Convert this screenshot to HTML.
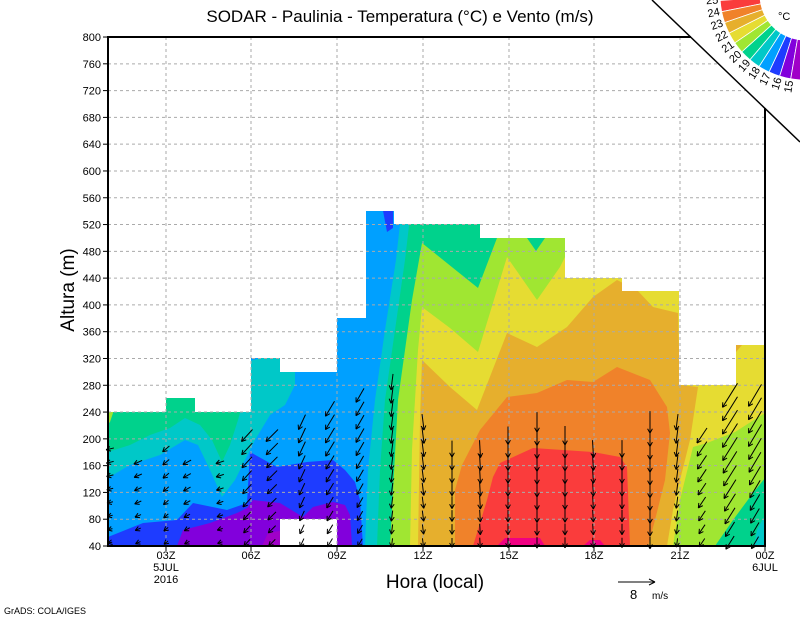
<!DOCTYPE html>
<html><head><meta charset="utf-8"><style>
html,body{margin:0;padding:0;background:#fff;}
svg{display:block;}
text{font-family:"Liberation Sans",sans-serif;}
</style></head><body>
<svg id="s" width="800" height="618" viewBox="0 0 800 618" xmlns="http://www.w3.org/2000/svg">
<rect x="108" y="200" width="657" height="346" fill="#00a0ff"/>
<polygon fill="#00c8c8" points="108,395 295,350 295,385 285,405 270,415 255,440 245,460 235,480 222,497 210,470 198,445 185,440 160,455 130,465 108,478"/>
<polygon fill="#00d28c" points="108,395 245,395 238,420 230,445 222,462 212,440 200,425 185,418 170,428 150,435 130,445 108,452"/>
<polygon fill="#a0e632" points="108,410 114,410 110,422 108,424"/>
<polygon fill="#1e3cff" points="108,546 108,537 143,523 177,520 193,503 227,510 247,503 250,452 277,467 307,462 333,460 345,470 355,482 360,500 363,546"/>
<polygon fill="#8200dc" points="177,546 183,530 210,523 237,513 247,508 253,500 280,503 303,517 313,507 333,502 345,505 350,515 352,546"/>
<polygon fill="#a000c8" points="262,546 268,533 285,530 292,546"/>
<polygon fill="#1e3cff" points="381,200 393,200 393,228 387,232"/>
<polygon fill="#00c8c8" points="400,200 400,224 396,260 385,330 375,400 368,470 365,546 765,546 765,200"/>
<polygon fill="#00d28c" points="412,200 405,260 395,330 385,400 380,470 377,546 754,546 757,530 765,515 765,200"/>
<polygon fill="#a0e632" points="390,546 398,400 412,300 422,243 478,288 497,238 527,238 536,251 545,238 565,238 565,200 765,200 765,478 753,493 733,520 715,546"/>
<polygon fill="#e6dc32" points="410,546 412,450 418,350 422,307 450,328 478,352 507,257 537,300 560,267 565,257 565,200 765,200 765,413 735,432 707,443 693,447 680,500 673,546"/>
<polygon fill="#e6af2d" points="418,546 420,420 422,360 450,387 477,410 507,333 537,347 567,327 593,297 617,280 637,290 653,307 678,313 680,385 698,387 690,440 680,480 673,510 667,546"/>
<polygon fill="#e6af2d" points="736,345 742,345 736,352"/>
<polygon fill="#f0822a" points="455,546 455,490 462,465 480,430 507,397 537,393 567,380 593,382 617,367 650,380 667,407 670,433 665,480 655,520 648,546"/>
<polygon fill="#fa3c3c" points="473,546 487,500 493,477 500,463 533,448 593,452 620,457 627,467 630,546"/>
<polygon fill="#f00082" points="497,546 505,538 540,538 545,546"/>
<polygon fill="#f00082" points="583,546 590,540 600,540 605,546"/>
<polygon fill="#fff" points="100,30 775,30 775,345 736,345 736,385 679,385 679,291 622,291 622,278 565,278 565,238 480,238 480,224 394,224 394,211 366,211 366,318 337,318 337,372 280,372 280,358 251,358 251,412 195,412 195,398 166,398 166,412 100,412"/>
<rect x="280" y="519" width="57" height="27" fill="#fff"/>
<g id="grid" stroke="#aaa" stroke-width="1" stroke-dasharray="3,3" fill="none"></g>
<g id="arr" stroke="#000" stroke-width="1" fill="none"></g>
<g stroke="#000" stroke-width="2" fill="none">
<line x1="108" y1="37" x2="108" y2="547"/>
<line x1="107" y1="546" x2="766" y2="546"/>
<line x1="107" y1="37" x2="691" y2="37"/>
<line x1="765" y1="108" x2="765" y2="547"/>
</g>
<line x1="652" y1="0" x2="800" y2="142" stroke="#000" stroke-width="1.5"/>
<g id="ticks" stroke="#000" stroke-width="1"></g>
<g id="ylab" font-size="11" text-anchor="end" fill="#000"></g>
<g font-size="11" text-anchor="middle" fill="#000">
<text x="166" y="559">03Z</text><text x="166" y="571">5JUL</text><text x="166" y="583">2016</text>
<text x="251" y="559">06Z</text><text x="337" y="559">09Z</text><text x="423" y="559">12Z</text>
<text x="509" y="559">15Z</text><text x="594" y="559">18Z</text><text x="680" y="559">21Z</text>
<text x="765" y="559">00Z</text><text x="765" y="571">6JUL</text>
</g>
<text x="400" y="22" font-size="17" text-anchor="middle">SODAR - Paulinia - Temperatura (°C) e Vento (m/s)</text>
<text x="435" y="588" font-size="19" text-anchor="middle">Hora (local)</text>
<text transform="translate(74,290) rotate(-90)" font-size="19" text-anchor="middle">Altura (m)</text>
<text x="4" y="614" font-size="9">GrADS: COLA/IGES</text>
<text x="630" y="599" font-size="13">8</text><text x="652" y="599" font-size="10">m/s</text>
<g stroke="#000" stroke-width="1"><line x1="618" y1="582" x2="655" y2="582"/><line x1="655" y1="582" x2="649" y2="579"/><line x1="655" y1="582" x2="649" y2="585"/></g>
<g id="fan"></g>
<text x="778" y="20" font-size="11">°C</text>
</svg>
<script>
var NS="http://www.w3.org/2000/svg";
function el(p,t,a,txt){var e=document.createElementNS(NS,t);for(var k in a)e.setAttribute(k,a[k]);if(txt!=null)e.textContent=txt;document.getElementById(p).appendChild(e);return e;}
function Y(m){return 546-(m-40)*0.6697;}
for(var m=40;m<=800;m+=40){var y=Y(m);
 if(m>40&&m<800){el("grid","line",{x1:108,y1:y,x2:Math.min(765,652+y/0.96),y2:y});}
 el("ticks","line",{x1:103,y1:y,x2:108,y2:y});
 el("ylab","text",{x:101,y:y+4},m);}
var xs=[166,251,337,423,509,594,680];
xs.forEach(function(x){el("grid","line",{x1:x,y1:37,x2:x,y2:546});el("ticks","line",{x1:x,y1:546,x2:x,y2:551});});
el("ticks","line",{x1:765,y1:546,x2:765,y2:551});
var cols=[[110,200,-8,2],[138,170,-9,4],[166,190,-7,6],[187,170,-9,5],[220,170,-9,3],[247,220,-11,12],[272,220,-12,12],[302,230,-7,15],[330,250,-9,15],[360,270,-8,14],[392,290,-2,16],[423,230,2,16],[452,190,0,17],[480,200,1,18],[508,210,0,18],[537,230,0,20],[565,220,0,19],[593,200,1,18],[622,200,0,18],[650,230,0,22],[677,240,-2,16],[702,210,-10,15],[730,270,-15,24],[755,270,-13,22]];
cols.forEach(function(c){
 for(var h=45;h<=c[1];h+=20){
  var f=0.55+0.45*Math.min(1,(h-45)/150);
  var dx=c[2]*f,dy=c[3]*f,y=Y(h),x=c[0];
  var x1=x-dx/2,y1=y-dy/2,x2=x+dx/2,y2=y+dy/2;
  el("arr","line",{x1:x1,y1:y1,x2:x2,y2:y2});
  var a=Math.atan2(dy,dx),L=5;
  el("arr","line",{x1:x2,y1:y2,x2:x2-L*Math.cos(a-0.5),y2:y2-L*Math.sin(a-0.5)});
  el("arr","line",{x1:x2,y1:y2,x2:x2-L*Math.cos(a+0.5),y2:y2-L*Math.sin(a+0.5)});
 }});
var cols2=["#f00082","#fa3c3c","#f0822a","#e6af2d","#e6dc32","#a0e632","#00d28c","#00c8c8","#00a0ff","#1e3cff","#8200dc","#a000c8"];
var cx=805,cy=-5,r1=45,r2=85,a0=184,a1=92,n=12,st=(a0-a1)/n;
function P(r,d){var t=d*Math.PI/180;return [cx+r*Math.cos(t),cy+r*Math.sin(t)];}
for(var i=0;i<n;i++){var A=a0-i*st,B=A-st;var p1=P(r2,A),p2=P(r2,B),p3=P(r1,B),p4=P(r1,A);
 el("fan","path",{d:"M"+p1+"A"+r2+","+r2+" 0 0 0 "+p2+"L"+p3+"A"+r1+","+r1+" 0 0 1 "+p4+"Z",fill:cols2[i],stroke:"#fff","stroke-width":0.8});}
for(var i=1;i<n;i++){var A=a0-i*st;var p=P(r2+8,A);
 el("fan","text",{x:p[0],y:p[1],"font-size":11,"text-anchor":"middle","dominant-baseline":"middle",transform:"rotate("+(A-180)+" "+p[0]+" "+p[1]+")"},26-i);}
</script>
</body></html>
